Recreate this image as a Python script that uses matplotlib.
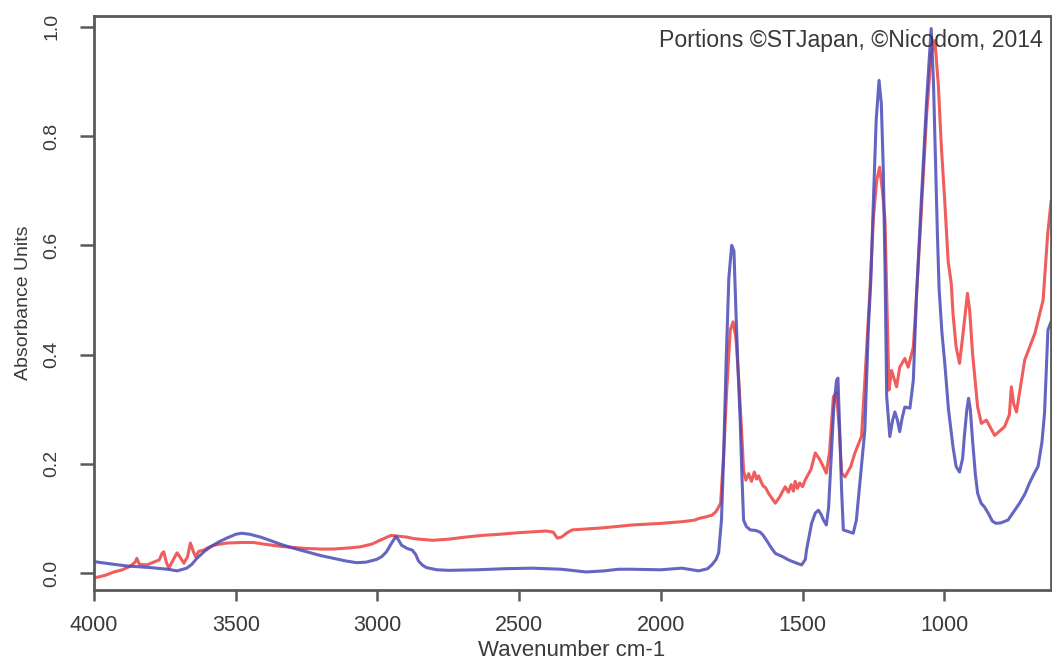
import matplotlib.pyplot as plt

# Spectrum data (wavenumber cm-1, absorbance)

wnBlue = [4000, 3930, 3884, 3800, 3740, 3707, 3673, 3655, 3637, 3610,
          3589, 3560, 3532, 3500, 3479, 3450, 3413, 3380, 3343, 3300,
          3250, 3200, 3155, 3110, 3073, 3040, 3003, 2985, 2968, 2950,
          2935, 2925, 2915, 2895, 2877, 2865, 2855, 2840, 2827, 2790,
          2747, 2650, 2550, 2454, 2350, 2264, 2200, 2150, 2102, 2000,
          1926, 1866, 1835, 1820, 1805, 1796, 1786, 1778, 1770, 1760,
          1750, 1742, 1735, 1728, 1720, 1714, 1708, 1698, 1684, 1665,
          1650, 1640, 1627, 1610, 1596, 1570, 1549, 1520, 1503, 1490,
          1486, 1468, 1455, 1444, 1435, 1426, 1416, 1408, 1398, 1390,
          1380, 1375, 1368, 1362, 1356, 1338, 1321, 1310, 1292, 1280,
          1268, 1259, 1250, 1240, 1230, 1222, 1215, 1209, 1203, 1192,
          1182, 1174, 1165, 1157, 1148, 1139, 1121, 1109, 1098, 1081,
          1062, 1046, 1038, 1030, 1024, 1018, 1008, 998, 985, 969,
          958, 946, 935, 929, 920, 914, 908, 900, 890, 882,
          870, 858, 845, 830, 817, 800, 775, 755, 734, 715,
          699, 680, 669, 655, 646, 634, 623]
absBlue = [0.021, 0.016, 0.013, 0.010, 0.007, 0.004, 0.009, 0.016, 0.027, 0.040,
           0.048, 0.057, 0.064, 0.071, 0.073, 0.071, 0.066, 0.060, 0.053, 0.046,
           0.039, 0.032, 0.027, 0.022, 0.019, 0.020, 0.025, 0.030, 0.039, 0.055,
           0.067, 0.060, 0.051, 0.045, 0.042, 0.034, 0.022, 0.014, 0.010, 0.006,
           0.005, 0.006, 0.008, 0.009, 0.007, 0.002, 0.004, 0.007, 0.007, 0.006,
           0.009, 0.004, 0.008, 0.015, 0.025, 0.037, 0.097, 0.22, 0.38, 0.54,
           0.600, 0.59, 0.48, 0.38, 0.28, 0.18, 0.097, 0.085, 0.079, 0.078,
           0.075, 0.070, 0.060, 0.046, 0.036, 0.030, 0.024, 0.018, 0.015, 0.025,
           0.042, 0.091, 0.110, 0.115, 0.108, 0.097, 0.088, 0.12, 0.22, 0.30,
           0.353, 0.357, 0.25, 0.15, 0.079, 0.076, 0.073, 0.097, 0.195, 0.262,
           0.445, 0.536, 0.68, 0.83, 0.902, 0.86, 0.74, 0.56, 0.323, 0.25,
           0.28, 0.295, 0.28, 0.259, 0.285, 0.304, 0.302, 0.353, 0.506, 0.68,
           0.866, 0.997, 0.90, 0.74, 0.62, 0.52, 0.44, 0.384, 0.30, 0.231,
           0.195, 0.185, 0.21, 0.25, 0.30, 0.32, 0.30, 0.243, 0.18, 0.146,
           0.128, 0.121, 0.11, 0.095, 0.091, 0.092, 0.097, 0.112, 0.128, 0.145,
           0.165, 0.185, 0.195, 0.24, 0.293, 0.445, 0.46]

wnRed = [4000, 3960, 3930, 3900, 3871, 3855, 3849, 3840, 3813, 3790,
         3770, 3760, 3754, 3745, 3736, 3720, 3707, 3695, 3683, 3670,
         3660, 3650, 3642, 3630, 3613, 3600, 3577, 3532, 3480, 3437,
         3400, 3343, 3300, 3250, 3200, 3155, 3100, 3061, 3020, 2991,
         2965, 2951, 2935, 2898, 2870, 2806, 2750, 2687, 2630, 2570,
         2500, 2405, 2380, 2365, 2350, 2330, 2313, 2200, 2102, 2000,
         1926, 1880, 1866, 1840, 1820, 1806, 1796, 1789, 1778, 1768,
         1755, 1745, 1735, 1725, 1715, 1708, 1700, 1690, 1680, 1670,
         1662, 1655, 1640, 1630, 1620, 1596, 1580, 1570, 1561, 1550,
         1540, 1532, 1526, 1518, 1510, 1500, 1491, 1470, 1455,
         1438, 1416, 1405, 1391, 1380, 1370, 1362, 1350, 1330, 1315,
         1292, 1280, 1262, 1250, 1238, 1228, 1218, 1209, 1200, 1195,
         1186, 1168, 1157, 1139, 1127, 1109, 1098, 1081, 1062, 1046,
         1033, 1021, 1010, 998, 986, 975, 969, 958, 946, 935,
         918, 910, 900, 882, 869, 851, 822, 787, 770, 763,
         755, 745, 716, 680, 651, 635, 623]
absRed = [-0.009, -0.004, 0.002, 0.006, 0.013, 0.020, 0.027, 0.016, 0.015, 0.020,
          0.024, 0.036, 0.039, 0.020, 0.009, 0.025, 0.037, 0.028, 0.018, 0.030,
          0.055, 0.040, 0.030, 0.040, 0.042, 0.046, 0.051, 0.055, 0.056, 0.056,
          0.053, 0.049, 0.047, 0.045, 0.044, 0.044, 0.046, 0.048, 0.053, 0.060,
          0.066, 0.069, 0.068, 0.066, 0.063, 0.060, 0.062, 0.066, 0.069, 0.071,
          0.074, 0.077, 0.075, 0.064, 0.066, 0.074, 0.079, 0.083, 0.088, 0.091,
          0.094, 0.097, 0.100, 0.103, 0.106, 0.112, 0.121, 0.128, 0.22, 0.33,
          0.445, 0.46, 0.43, 0.353, 0.26, 0.188, 0.170, 0.182, 0.168, 0.185,
          0.172, 0.178, 0.160, 0.156, 0.146, 0.128, 0.14, 0.150, 0.158, 0.148,
          0.162, 0.150, 0.168, 0.155, 0.165, 0.158, 0.170, 0.19, 0.22,
          0.207, 0.183, 0.22, 0.323, 0.33, 0.26, 0.183, 0.176, 0.195, 0.22,
          0.25, 0.353, 0.518, 0.65, 0.72, 0.743, 0.70, 0.646, 0.45, 0.335,
          0.371, 0.341, 0.377, 0.393, 0.377, 0.414, 0.506, 0.66, 0.84, 0.95,
          0.975, 0.896, 0.78, 0.68, 0.57, 0.53, 0.475, 0.414, 0.384, 0.432,
          0.512, 0.48, 0.402, 0.304, 0.274, 0.28, 0.252, 0.268, 0.29, 0.341,
          0.31, 0.295, 0.39, 0.439, 0.50, 0.62, 0.68]

xTicks = [4000, 3500, 3000, 2500, 2000, 1500, 1000]
yTicks = [0.0, 0.2, 0.4, 0.6, 0.8, 1.0]

# Figure setup

plt.rcParams['font.family'] = ['Liberation Sans', 'DejaVu Sans']
textCol = '#3a3a3a'
spineCol = '#5a5a5a'

fig = plt.figure(figsize=(10.52, 6.63), dpi=100)
ax = fig.add_axes([0.0894, 0.1101, 0.9097, 0.8658])

# Spectra

ax.plot(wnRed, absRed, color='#ee4040', lw=2.2, alpha=0.85)
ax.plot(wnBlue, absBlue, color='#4a4ab8', lw=2.2, alpha=0.85)

# Axes

ax.set_xlim(4000, 623)
ax.set_ylim(-0.031, 1.02)
ax.set_xticks(xTicks)
ax.set_xticklabels([str(t) for t in xTicks], fontsize=15.5, color=textCol)
ax.set_yticks(yTicks)
ax.set_yticklabels(['%.1f' % t for t in yTicks], fontsize=14, color=textCol,
                   rotation=90, va='center')
ax.tick_params(axis='x', length=8, width=1.8, color=spineCol, pad=10)
ax.tick_params(axis='y', length=10, width=1.8, color=spineCol, pad=14)
for s in ax.spines.values():
    s.set_color(spineCol)
    s.set_linewidth(2.0)

# Labels

fig.text(572 / 1052, 1 - 651 / 663, 'Wavenumber cm-1', ha='center', va='center',
         fontsize=16, color=textCol)
fig.text(24 / 1052, 1 - 303 / 663, 'Absorbance Units', ha='center', va='center',
         rotation=90, fontsize=14, color=textCol)
fig.text(1043 / 1052, 1 - 40 / 663, 'Portions \u00a9STJapan, \u00a9Nicodom, 2014',
         ha='right', va='center', fontsize=16.6, color=textCol)

fig.savefig('out.png', dpi=100)
